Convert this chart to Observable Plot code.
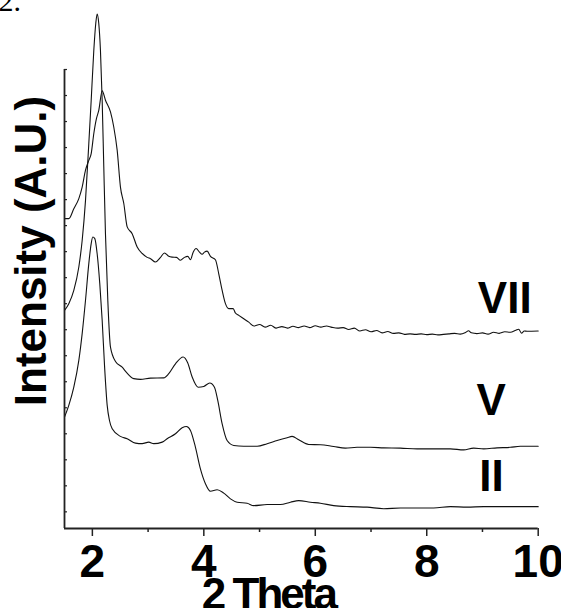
<!DOCTYPE html>
<html><head><meta charset="utf-8">
<script src="https://cdn.jsdelivr.net/npm/d3@7"></script>
<script src="https://cdn.jsdelivr.net/npm/@observablehq/plot@0.6"></script>
<style>
body{margin:0;background:#fff;}
.xtitle text{letter-spacing:-3px;}
</style></head><body><div id="chart"></div>
<script>
// 2-theta values and intensities (arbitrary units, vertically offset)
const xVII = [1.5,1.577,1.667,1.757,1.817,1.877,1.936,1.979,2.026,2.074,2.115,2.176,2.235,2.325,2.384,2.445,2.504,2.564,2.625,2.714,2.804,2.894,2.983,3.043,3.132,3.222,3.294,3.371,3.432,3.509,3.581,3.652,3.712,3.76,3.809,3.862,3.922,3.97,4.011,4.06,4.119,4.208,4.268,4.329,4.388,4.447,4.526,4.567,4.627,4.716,4.806,4.9,5.0,5.1,5.2,5.3,5.4,5.5,5.6,5.7,5.8,5.9,6.0,6.1,6.2,6.3,6.4,6.5,6.6,6.7,6.8,6.9,7.0,7.1,7.2,7.3,7.4,7.5,7.6,7.7,7.8,7.9,8.0,8.1,8.2,8.3,8.4,8.5,8.6,8.7,8.75,8.8,8.9,9.0,9.1,9.2,9.3,9.4,9.5,9.6,9.65,9.7,9.75,9.8,10.0];
const yVII = [11.27,11.27,11.65,12.04,12.48,13.13,13.51,13.77,14.54,15.12,15.43,16.18,15.82,15.37,14.79,13.9,12.48,11.85,10.95,10.69,10.18,9.93,9.78,9.73,9.6,9.78,9.95,9.82,9.79,9.78,9.67,9.78,9.82,9.69,9.98,10.12,9.98,9.9,9.98,10.02,9.82,9.69,9.15,8.51,8.0,7.81,7.81,7.64,7.55,7.42,7.29,7.14,7.2,7.1,7.17,7.06,7.12,7.06,7.13,7.08,7.14,7.08,7.15,7.1,7.14,7.09,7.06,7.08,7.01,7.06,6.95,7.0,6.92,6.97,6.88,6.93,6.86,6.88,6.82,6.84,6.82,6.84,6.81,6.83,6.8,6.82,6.84,6.86,6.83,6.9,6.96,6.88,6.85,6.88,6.83,6.9,6.86,6.92,6.9,6.98,7.02,6.87,6.95,6.94,6.95];

const xV = [1.5,1.577,1.667,1.757,1.817,1.877,1.936,1.979,2.026,2.061,2.086,2.115,2.145,2.176,2.205,2.235,2.277,2.325,2.415,2.535,2.612,2.743,2.863,3.043,3.281,3.371,3.491,3.629,3.712,3.791,3.898,3.999,4.106,4.191,4.25,4.329,4.418,4.537,4.716,4.957,5.136,5.315,5.495,5.584,5.703,5.882,6.092,6.33,6.54,6.75,6.989,7.227,7.527,7.826,8.124,8.424,8.662,8.842,9.021,9.261,9.5,9.679,10.0];
const yV = [7.74,8.0,8.51,9.41,10.43,11.97,14.15,15.82,17.74,18.77,19.13,18.77,17.74,15.82,13.25,10.69,8.13,6.33,5.78,5.56,5.36,5.12,5.09,5.14,5.15,5.31,5.69,5.95,5.72,5.18,4.79,4.82,4.95,4.79,4.28,3.38,2.74,2.55,2.52,2.52,2.62,2.74,2.85,2.9,2.77,2.59,2.58,2.51,2.45,2.48,2.48,2.46,2.45,2.42,2.42,2.42,2.38,2.45,2.42,2.46,2.48,2.52,2.52];

const xII = [1.5,1.577,1.667,1.757,1.817,1.877,1.936,1.979,2.008,2.044,2.086,2.133,2.176,2.218,2.266,2.307,2.356,2.504,2.625,2.774,2.894,3.012,3.102,3.253,3.342,3.491,3.611,3.688,3.76,3.85,3.939,4.029,4.119,4.239,4.357,4.478,4.598,4.777,4.896,5.136,5.374,5.554,5.703,5.913,6.092,6.33,6.63,6.93,7.227,7.527,7.826,8.124,8.424,8.723,9.021,9.321,9.62,10.0];
const yII = [3.64,4.09,4.79,5.82,6.85,8.13,9.54,10.31,10.56,10.5,9.92,8.77,7.36,5.63,4.09,3.51,3.19,2.9,2.81,2.64,2.62,2.68,2.62,2.68,2.81,3.0,3.23,3.28,3.13,2.48,1.65,1.08,0.79,0.85,0.72,0.5,0.37,0.33,0.24,0.28,0.28,0.37,0.43,0.37,0.33,0.24,0.2,0.18,0.12,0.15,0.15,0.15,0.2,0.18,0.2,0.2,0.2,0.2];

const seriesNames = ["II", "V", "VII"];
const labelX = [8.944, 8.894, 8.917];
const labelY = [1.33, 4.27, 8.18];

const xMajorTicks = [2, 4, 6, 8, 10];
const xMinorTicks = [3, 5, 7, 9];
const yTicks = d3.range(0, 18);

const xDomain = [1.5, 10];
const yDomain = [-0.64, 17.0];

const rows = [];
[[xII, yII, "II"], [xV, yV, "V"], [xVII, yVII, "VII"]].forEach(([xs, ys, s]) => {
  xs.forEach((x, i) => rows.push({series: s, x, y: ys[i]}));
});
const labels = seriesNames.map((s, i) => ({s, x: labelX[i], y: labelY[i]}));

const font = "'Liberation Sans', Arial, Helvetica, sans-serif";

const chart = Plot.plot({
  width: 561, height: 608,
  marginLeft: 64, marginRight: 23.3, marginTop: 69, marginBottom: 80,
  x: {domain: xDomain},
  y: {domain: yDomain},
  style: {fontFamily: font, background: "#fff", overflow: "visible"},
  marks: [
    Plot.line(rows, {x: "x", y: "y", z: "series", stroke: "#111", strokeWidth: 1.1, curve: "monotone-x"}),
    Plot.ruleX([xDomain[0]], {stroke: "#222", strokeWidth: 1.8}),
    Plot.ruleY([yDomain[0]], {stroke: "#222", strokeWidth: 1.8}),
    Plot.axisX(xMajorTicks, {tickSize: 8, tickPadding: 8, fontSize: 46, fontWeight: "bold", label: null, stroke: "#222", strokeWidth: 1.5, fill: "#000"}),
    Plot.axisX(xMinorTicks, {tickSize: 4, tickFormat: () => "", label: null, stroke: "#222", strokeWidth: 1.5}),
    Plot.axisY(yTicks, {tickSize: -3, tickFormat: () => "", label: null, stroke: "#222", strokeWidth: 1.2}),
    Plot.text(labels, {x: "x", y: "y", text: "s", textAnchor: "start", lineAnchor: "middle", fontSize: 44, fontWeight: "bold", fill: "#000"}),
    Plot.text(["Intensity (A.U.)"], {frameAnchor: "left", rotate: -90, dx: -33, dy: -48, textAnchor: "middle", lineAnchor: "middle", fontSize: 44, fontWeight: "bold", fill: "#000"}),
    Plot.text(["2 Theta"], {frameAnchor: "bottom", dx: -33, dy: 49, textAnchor: "middle", lineAnchor: "top", fontSize: 44, fontWeight: "bold", fill: "#000", className: "xtitle"}),
    Plot.text(["2."], {frameAnchor: "top-left", dx: -66, dy: -80, textAnchor: "start", lineAnchor: "top", fontSize: 30, fontFamily: "'Liberation Serif', 'Times New Roman', serif", fill: "#000"})
  ]
});
document.getElementById("chart").appendChild(chart);
</script></body></html>
